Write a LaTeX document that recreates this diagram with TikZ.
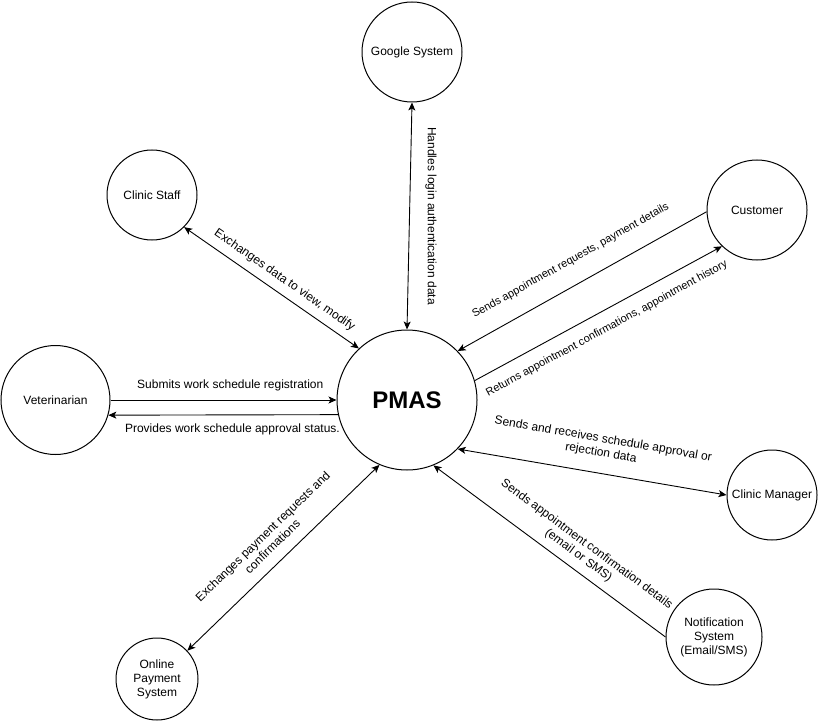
\documentclass[tikz,border=0pt]{standalone}
\usepackage{fontspec}
\setmainfont{Liberation Sans}
\usetikzlibrary{arrows.meta}
\begin{document}
\begin{tikzpicture}[x=1pt,y=-1pt,>={Stealth[length=8pt,width=7pt,inset=2pt]},font=\fontsize{12}{14}\selectfont,
	ent/.style={draw,circle,line width=1pt,inner sep=0pt,align=center},
	flow/.style={line width=0.9pt},
	lbl/.style={sloped,align=center,inner sep=#1},
	small/.style={font=\fontsize{11}{13}\selectfont}]
	\useasboundingbox (0,0) rectangle (818,722);
	\path (412,52) node[ent,minimum size=100pt] (google) {Google System}
	(152,195) node[ent,minimum size=90pt] (staff) {Clinic Staff}
	(757,210) node[ent,minimum size=100pt] (customer) {Customer}
	(55.5,400) node[ent,minimum size=109pt] (vet) {Veterinarian}
	(407,400) node[ent,minimum size=140pt,font=\fontsize{24}{28}\selectfont\bfseries] (pmas) {PMAS}
	(772,495) node[ent,minimum size=90pt] (manager) {Clinic Manager}
	(714,637) node[ent,minimum size=96pt] (notif) {Notification\\System\\(Email/SMS)}
	(157,679) node[ent,minimum size=82pt] (payment) {Online\\Payment\\System};
	\draw[flow,<->] (google.south) -- (pmas.north) node[midway,rotate=-90,above,inner sep=15.5pt] (lgoogle) {Handles login authentication data};
	\draw[flow,<->] (staff.-45) -- (pmas.133) node[lbl=7.5pt,pos=0.53,above] (lstaff) {Exchanges data to view, modify};
	\draw[flow,->] (customer.182) -- (pmas.44) node[lbl=18pt,small,midway,above] (lsend) {Sends appointment requests, payment details};
	\draw[flow,->] (pmas.16) -- (customer.226.6) node[lbl=12pt,small,midway,below] (lret) {Returns appointment confirmations, appointment history};
	\draw[flow,->] (vet.0) -- (pmas.180) node[lbl=8.5pt,pos=0.53,above] (lsub) {Submits work schedule registration};
	\draw[flow,->] (pmas.192.4) -- (vet.344) node[lbl=8.5pt,pos=0.46,below] (lprov) {Provides work schedule approval status.};
	\draw[flow,<->] (pmas.-44) -- (manager.180) node[lbl=14pt,pos=0.52,above] (lman) {Sends and receives schedule approval or\\rejection data};
	\draw[flow,->] (notif.180) -- (pmas.-68) node[lbl=7.5pt,pos=0.41,above] (lnotif) {Sends appointment confirmation details\\(email or SMS)};
	\draw[flow,<->] (payment.43) -- (pmas.247) node[lbl=11pt,midway,above] (lpay) {Exchanges payment requests and\\confirmations};
\end{tikzpicture}
\end{document}
